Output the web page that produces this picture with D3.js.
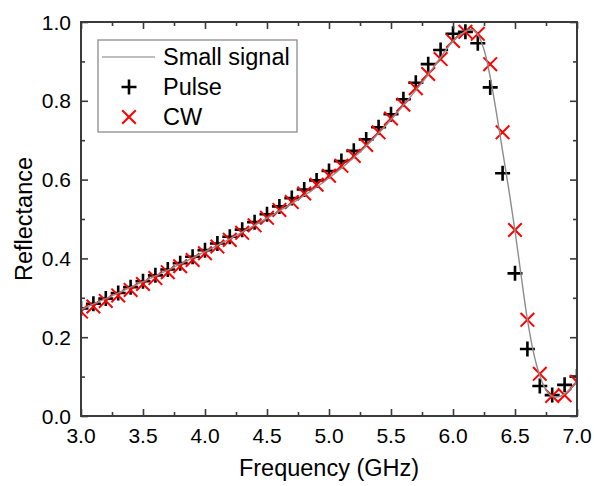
<!DOCTYPE html>
<html>
<head>
<meta charset="utf-8">
<script src="https://cdn.jsdelivr.net/npm/d3@7"></script>
<style>
  html, body { margin: 0; padding: 0; background: #fff; }
  svg { display: block; font-family: "Liberation Sans", Arial, sans-serif; }
</style>
</head>
<body>
<svg id="chart" width="594" height="486"></svg>
<script>
// Measured reflectance vs. frequency (GHz)
const freq = [3.0, 3.1, 3.2, 3.3, 3.4, 3.5, 3.6, 3.7, 3.8, 3.9,
              4.0, 4.1, 4.2, 4.3, 4.4, 4.5, 4.6, 4.7, 4.8, 4.9,
              5.0, 5.1, 5.2, 5.3, 5.4, 5.5, 5.6, 5.7, 5.8, 5.9,
              6.0, 6.1, 6.2, 6.3, 6.4, 6.5, 6.6, 6.7, 6.8, 6.9, 7.0];

const pulse = [0.273, 0.285, 0.298, 0.312, 0.327, 0.342, 0.357, 0.372, 0.388, 0.404,
               0.421, 0.438, 0.455, 0.473, 0.492, 0.512, 0.532, 0.553, 0.575, 0.598,
               0.622, 0.647, 0.673, 0.702, 0.733, 0.766, 0.804, 0.846, 0.893, 0.929,
               0.970, 0.975, 0.946, 0.834, 0.616, 0.362, 0.170, 0.076, 0.053, 0.079, 0.100];

const cw = [0.265, 0.278, 0.292, 0.306, 0.320, 0.335, 0.350, 0.365, 0.380, 0.396,
            0.413, 0.430, 0.447, 0.465, 0.484, 0.503, 0.523, 0.543, 0.565, 0.587,
            0.610, 0.635, 0.660, 0.688, 0.720, 0.755, 0.790, 0.832, 0.868, 0.906,
            0.952, 0.975, 0.970, 0.893, 0.720, 0.472, 0.244, 0.107, 0.051, 0.053, 0.087];

// Small-signal simulation
const ssFreq = [3.0, 3.25, 3.5, 3.75, 4.0, 4.25, 4.5, 4.75, 5.0, 5.25, 5.5, 5.75,
                5.9, 6.0, 6.1, 6.15, 6.2, 6.25, 6.3, 6.35, 6.4, 6.45, 6.5, 6.55,
                6.6, 6.65, 6.7, 6.75, 6.8, 6.85, 6.9, 6.95, 7.0];
const ssRefl = [0.270, 0.305, 0.341, 0.378, 0.417, 0.458, 0.502, 0.549, 0.604, 0.670, 0.752, 0.846,
                0.910, 0.952, 0.976, 0.981, 0.968, 0.930, 0.860, 0.770, 0.672, 0.575, 0.470, 0.355,
                0.245, 0.160, 0.102, 0.066, 0.050, 0.049, 0.056, 0.070, 0.088];

const xTicks = [3.0, 3.5, 4.0, 4.5, 5.0, 5.5, 6.0, 6.5, 7.0];
const yTicks = [0.0, 0.2, 0.4, 0.6, 0.8, 1.0];
const xMinor = [3.25, 3.75, 4.25, 4.75, 5.25, 5.75, 6.25, 6.75];
const yMinor = [0.1, 0.3, 0.5, 0.7, 0.9];

const legendLabels = ["Small signal", "Pulse", "CW"];

const svg = d3.select("#chart");
const box = { left: 81, right: 577, top: 22, bottom: 416 };

const x = d3.scaleLinear().domain([3.0, 7.0]).range([box.left, box.right]);
const y = d3.scaleLinear().domain([0.0, 1.0]).range([box.bottom, box.top]);

const axisColor = "#3a3a3a";

// clip region for the data
svg.append("defs").append("clipPath").attr("id", "plotClip")
  .append("rect").attr("x", box.left).attr("y", box.top)
  .attr("width", box.right - box.left).attr("height", box.bottom - box.top);

const plot = svg.append("g").attr("clip-path", "url(#plotClip)");

const plusPath = s => `M${-s},0H${s}M0,${-s}V${s}`;
const crossPath = s => `M${-s},${-s}L${s},${s}M${-s},${s}L${s},${-s}`;

const pulseData = freq.map((f, i) => [f, pulse[i]]);
const cwData = freq.map((f, i) => [f, cw[i]]);
const ssData = ssFreq.map((f, i) => [f, ssRefl[i]]);

plot.append("g").selectAll("path").data(pulseData).join("path")
  .attr("transform", d => `translate(${x(d[0])},${y(d[1])})`)
  .attr("d", plusPath(7.5))
  .attr("stroke", "#000").attr("stroke-width", 2.6).attr("fill", "none");

plot.append("g").selectAll("path").data(cwData).join("path")
  .attr("transform", d => `translate(${x(d[0])},${y(d[1])})`)
  .attr("d", crossPath(6.8))
  .attr("stroke", "#ff0000").attr("stroke-width", 2).attr("fill", "none");

plot.append("path").datum(ssData)
  .attr("d", d3.line().x(d => x(d[0])).y(d => y(d[1])).curve(d3.curveCatmullRom))
  .attr("fill", "none").attr("stroke", "#8c8c8c").attr("stroke-width", 1.4);

// axes: inward ticks on all four sides
function tickGroup(axisGen, tx, ty) {
  const g = svg.append("g").attr("transform", `translate(${tx},${ty})`);
  g.call(axisGen);
  g.select(".domain").remove();
  g.selectAll("line").attr("stroke", axisColor).attr("stroke-width", 1.6);
  return g;
}
tickGroup(d3.axisTop(x).tickValues(xTicks).tickSize(7).tickFormat(""), 0, box.bottom);
tickGroup(d3.axisTop(x).tickValues(xMinor).tickSize(4).tickFormat(""), 0, box.bottom);
tickGroup(d3.axisBottom(x).tickValues(xTicks).tickSize(7).tickFormat(""), 0, box.top);
tickGroup(d3.axisBottom(x).tickValues(xMinor).tickSize(4).tickFormat(""), 0, box.top);
tickGroup(d3.axisRight(y).tickValues(yTicks).tickSize(7).tickFormat(""), box.left, 0);
tickGroup(d3.axisRight(y).tickValues(yMinor).tickSize(4).tickFormat(""), box.left, 0);
tickGroup(d3.axisLeft(y).tickValues(yTicks).tickSize(7).tickFormat(""), box.right, 0);
tickGroup(d3.axisLeft(y).tickValues(yMinor).tickSize(4).tickFormat(""), box.right, 0);

// frame
svg.append("rect").attr("x", box.left).attr("y", box.top)
  .attr("width", box.right - box.left).attr("height", box.bottom - box.top)
  .attr("fill", "none").attr("stroke", axisColor).attr("stroke-width", 2);

// tick labels
svg.append("g").selectAll("text").data(xTicks).join("text")
  .attr("x", d => x(d)).attr("y", 443)
  .attr("text-anchor", "middle").attr("font-size", 21).attr("fill", "#000")
  .text(d => d.toFixed(1));
svg.append("g").selectAll("text").data(yTicks).join("text")
  .attr("x", 71).attr("y", d => y(d)).attr("dy", "0.36em")
  .attr("text-anchor", "end").attr("font-size", 21).attr("fill", "#000")
  .text(d => d.toFixed(1));

// axis titles
svg.append("text").attr("x", (box.left + box.right) / 2).attr("y", 476)
  .attr("text-anchor", "middle").attr("font-size", 23.5).attr("fill", "#000")
  .text("Frequency (GHz)");
svg.append("text")
  .attr("transform", `translate(32,${(box.top + box.bottom) / 2}) rotate(-90)`)
  .attr("text-anchor", "middle").attr("font-size", 23.5).attr("fill", "#000")
  .text("Reflectance");

// legend
const lg = svg.append("g");
lg.append("rect").attr("x", 98).attr("y", 40).attr("width", 199).attr("height", 92)
  .attr("fill", "#fff").attr("stroke", "#8c8c8c").attr("stroke-width", 1.3);
const rowY = [57, 87, 117];
lg.append("line").attr("x1", 102).attr("x2", 155).attr("y1", rowY[0]).attr("y2", rowY[0])
  .attr("stroke", "#a8a8a8").attr("stroke-width", 1.6);
lg.append("path").attr("transform", `translate(129,${rowY[1]})`).attr("d", plusPath(7.5))
  .attr("stroke", "#000").attr("stroke-width", 2.6).attr("fill", "none");
lg.append("path").attr("transform", `translate(129,${rowY[2]})`).attr("d", crossPath(6.8))
  .attr("stroke", "#ff0000").attr("stroke-width", 2).attr("fill", "none");
lg.selectAll("text.lab").data(legendLabels).join("text").attr("class", "lab")
  .attr("x", 163).attr("y", (d, i) => rowY[i]).attr("dy", "0.36em")
  .attr("font-size", 23.5).attr("fill", "#000").text(d => d);
</script>
</body>
</html>
